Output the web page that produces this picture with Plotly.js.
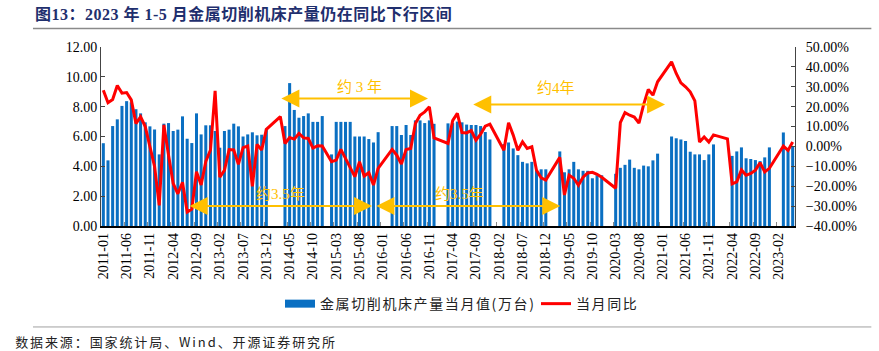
<!DOCTYPE html>
<html><head><meta charset="utf-8">
<script src="https://cdn.plot.ly/plotly-3.0.1.min.js"></script>
<style>html,body{margin:0;padding:0;background:#fff}#chart{width:879px;height:351px}
.js-plotly-plot .legendtext{letter-spacing:1.6px !important}
.js-plotly-plot .gtitle{letter-spacing:0.5px !important}
.js-plotly-plot .annotation[data-index="8"] text{letter-spacing:1.9px !important}
</style>
</head><body><div id="chart"></div>
<script>
// categories: monthly 2011-01 .. 2023-05
const months = [];
for (let y = 2011; y <= 2023; y++) {
  for (let m = 1; m <= 12; m++) {
    if (y === 2023 && m > 5) break;
    months.push(y + '-' + (m < 10 ? '0' + m : '' + m));
  }
}
// 金属切削机床产量当月值(万台)
const output2011 = [5.55, 4.4, 6.7, 7.15, 8.05, 8.37, 8.3, 7.83, 7.55, 6.95, 6.68, 6.47];
const output2012 = [4.8, 6.86, 6.9, 6.37, 6.46, 7.35, 5.85, 5.56, 7.55, 6.14, 6.75, 6.75];
const output2013 = [6.37, 5.25, 6.37, 6.46, 6.86, 6.68, 6.0, 6.14, 6.28, 6.08, 6.12, 6.52];
const output2014 = [null, null, null, 6.7, 9.58, 7.78, 7.26, 7.37, 7.55, 6.98, 6.98, 7.37];
const output2015 = [null, 4.8, 6.98, 6.98, 6.98, 6.98, 6.0, 6.0, 6.0, 5.83, 5.6, 6.29];
const output2016 = [null, null, 6.7, 6.7, 6.1, 6.77, 6.1, 7.08, 7.08, 6.9, 7.08, 6.85];
const output2017 = [null, null, 6.88, 6.9, 7.0, 6.95, 6.8, 6.77, 6.77, 6.7, 6.3, 5.8];
const output2018 = [null, null, 5.5, 5.6, 5.2, 4.75, 4.3, 4.2, 4.3, 3.75, 3.8, 3.8];
const output2019 = [null, null, 5.0, 3.6, 3.8, 4.3, 3.8, 3.7, 3.7, 3.2, 3.4, 3.4];
const output2020 = [null, null, 3.5, 3.9, 4.1, 4.45, 3.9, 3.8, 4.05, 4.0, 4.4, 4.85];
const output2021 = [null, null, 6.0, 5.88, 5.8, 5.7, 4.98, 4.8, 4.8, 4.42, 4.8, 5.47];
const output2022 = [null, null, null, 4.7, 5.0, 5.27, 4.54, 4.49, 4.42, 4.35, 4.6, 5.27];
const output2023 = [null, null, 6.27, 5.15, 5.35];
// 当月同比 (%)
const yoy2011 = [28.3, 22, 23.6, 30.6, 26.8, 27.1, 23.4, 11.5, 14.9, 10, -0.1, -10];
const yoy2012 = [-29.6, 10.8, -4.4, -18.6, -23.8, -18, -33, -31.5, -12.7, -19.4, -7.5, -1.8];
const yoy2013 = [28, -15.5, -12, -1.6, -1.8, -9, -0.6, 0.2, -20, 1, -1.8, 8.6];
const yoy2014 = [null, null, 15, 1.5, 4.5, 3.7, 6.5, 4.3, 4, -0.8, 0.3, 0.2];
const yoy2015 = [null, -7.7, -6.9, -1.5, -6, -11, -15.2, -7.7, -14.9, -13.2, -19.4, -11];
const yoy2016 = [null, null, -1.5, -4.4, -8.9, -1.5, -1, 11.5, 15.7, 17.4, 19.9, 4.3];
const yoy2017 = [null, null, 1.5, 13, 16.6, 7, 6.8, 8, 3.2, 6.2, 10.2, 11.2];
const yoy2018 = [null, null, -1.9, 11.9, 5.7, -1.9, 2.3, -1, -0.2, -12, -15.8, -16.9];
const yoy2019 = [null, null, -5.5, -24.4, -14.5, -16, -19.5, -15.5, -13.3, -13, -14, -15.5];
const yoy2020 = [null, null, -21, 12, 17, 15.7, 14.8, 11.7, 21, 28.6, 25.8, 32.5];
const yoy2021 = [null, null, 42.5, 36.7, 32, 30, 27.5, 22.9, 2.2, 4.8, 2.2, 5.8];
const yoy2022 = [null, null, 3.8, -18.8, -17.8, -11.8, -14.5, -13.6, -11.9, -8.2, -12.8, -11];
const yoy2023 = [null, null, 0.2, -2, 2.2];

const output = [].concat(output2011, output2012, output2013, output2014, output2015, output2016,
  output2017, output2018, output2019, output2020, output2021, output2022, output2023);
const yoy = [].concat(yoy2011, yoy2012, yoy2013, yoy2014, yoy2015, yoy2016,
  yoy2017, yoy2018, yoy2019, yoy2020, yoy2021, yoy2022, yoy2023);

const barName = '金属切削机床产量当月值(万台)';
const lineName = '当月同比';
const BLUE = '#0A6FC2', RED = '#FF0000', GOLD = '#FFC000';
const serif = 'Liberation Serif, Noto Sans CJK SC, serif';
const cjk = 'Noto Sans CJK SC, sans-serif';

const traces = [
  {type: 'bar', x: months, y: output, name: barName, marker: {color: BLUE}, yaxis: 'y',
   showlegend: false, hoverinfo: 'skip'},
  {type: 'scatter', mode: 'lines', x: [null], y: [null], name: barName, legendrank: 1,
   line: {color: BLUE, width: 8}, yaxis: 'y', hoverinfo: 'skip'},
  {type: 'scatter', mode: 'lines', x: months, y: yoy, name: lineName, legendrank: 2,
   connectgaps: true, line: {color: RED, width: 3}, yaxis: 'y2', hoverinfo: 'skip'}
];

function arrow(x0, x1, yv) {
  return {x: x1, y: yv, ax: x0, ay: yv, xref: 'x', yref: 'y2', axref: 'x', ayref: 'y2',
    text: '', showarrow: true, arrowside: 'end+start', arrowhead: 2, arrowsize: 1.8,
    arrowwidth: 2, arrowcolor: GOLD, standoff: 0, startstandoff: 0};
}
function label(t, xv, yv) {
  return {x: xv, y: yv, xref: 'x', yref: 'y2', text: t, showarrow: false,
    font: {family: serif, size: 15, color: GOLD}, xanchor: 'center', yanchor: 'middle'};
}

const layout = {
  width: 879, height: 351,
  margin: {l: 101, r: 84, t: 47, b: 125, pad: 0},
  paper_bgcolor: '#fff', plot_bgcolor: '#fff',
  bargap: 0.35,
  title: {text: '图13：2023 年 1-5 月金属切削机床产量仍在同比下行区间',
    font: {family: serif, size: 16, color: '#1F2F6E', weight: 'bold'},
    xref: 'container', yref: 'container', x: 35 / 879, xanchor: 'left',
    y: 1 - 14 / 351, yanchor: 'middle'},
  xaxis: {type: 'category', tickmode: 'linear', tick0: 0, dtick: 5, tickangle: -90,
    tickson: 'boundaries', ticks: 'inside', ticklen: 4, tickcolor: '#888',
    showline: true, linecolor: '#000', linewidth: 1.5, showgrid: false, automargin: false,
    tickfont: {family: serif, size: 14, color: '#000'}, range: [-0.5, months.length - 0.5]},
  yaxis: {range: [0, 12], dtick: 2, tickformat: '.2f', showgrid: false, zeroline: false,
    showline: true, linecolor: '#444', linewidth: 1, ticks: 'inside', ticklen: 4, tickcolor: '#444',
    tickfont: {family: serif, size: 14, color: '#000'}, automargin: false},
  yaxis2: {range: [-40, 50], dtick: 10, tickformat: '.2f', ticksuffix: '%', overlaying: 'y',
    side: 'right', showgrid: false, zeroline: false, showline: true, linecolor: '#444',
    linewidth: 1, ticks: 'inside', ticklen: 4, tickcolor: '#444', ticklabelstandoff: 7,
    tickfont: {family: serif, size: 14, color: '#000'}, automargin: false},
  legend: {orientation: 'h', x: (280 - 101) / 694, xanchor: 'left', y: -0.436, yanchor: 'middle',
    font: {family: cjk, size: 14, color: '#222'}, itemwidth: 30, bgcolor: 'rgba(0,0,0,0)',
    entrywidth: 211, entrywidthmode: 'pixels'},
  shapes: [
    {type: 'line', xref: 'paper', yref: 'paper', x0: -0.098, x1: 1.11, y0: 1.103, y1: 1.103,
     line: {color: '#8A8A8A', width: 1.5}},
    {type: 'line', xref: 'paper', yref: 'paper', x0: -0.098, x1: 1.11, y0: -0.564, y1: -0.564,
     line: {color: '#A0A0A0', width: 1}}
  ],
  annotations: [
    arrow(18.2, 57.7, -30), arrow(58.3, 98.1, -30), arrow(37.9, 69.7, 24.1), arrow(79.1, 120.6, 21.1),
    label('约3.5年', 38.1, -24), label('约3.5年', 76.4, -24),
    label('约 3 年', 54.9, 30), label('约4年', 97.2, 29.3),
    {xref: 'paper', yref: 'paper', x: -0.0951, y: -0.643, xanchor: 'left', yanchor: 'middle',
     showarrow: false, text: '数据来源：国家统计局、Wind、开源证券研究所',
     font: {family: cjk, size: 13, color: '#222'}}
  ]
};

Plotly.newPlot('chart', traces, layout, {displayModeBar: false, staticPlot: true});
</script></body></html>
